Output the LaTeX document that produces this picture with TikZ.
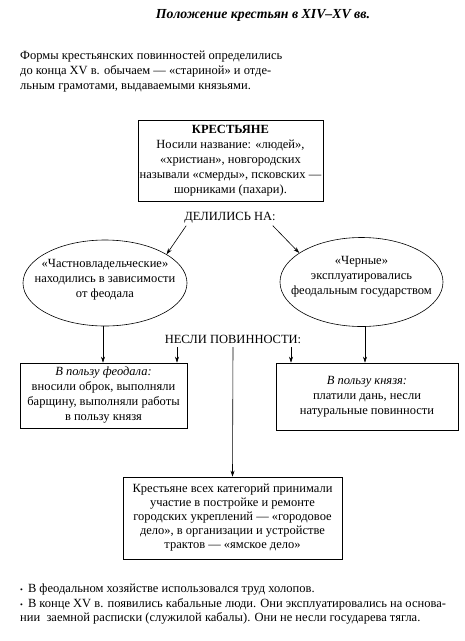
\documentclass[tikz,border=0pt]{standalone}
\usepackage{fontspec}
\setmainfont{Liberation Serif}
\usetikzlibrary{shapes.geometric,arrows.meta,calc}
\begin{document}
\begin{tikzpicture}[x=1pt,y=-1pt,
  txt/.style={font=\fontsize{12.5}{15}\selectfont, inner sep=0pt, align=center},
  boxn/.style={draw, line width=0.6pt, inner sep=0pt, align=center, font=\fontsize{12.5}{15}\selectfont},
  ell/.style={draw, ellipse, line width=0.6pt, inner sep=0pt},
  arr/.style={line width=0.6pt, -{Stealth[length=6pt,width=4pt]}},
  ln/.style={line width=0.6pt}
]
\useasboundingbox (0,0) rectangle (464,641);

\node[txt, font=\fontsize{13.8}{15}\selectfont\bfseries\itshape] (title) at (263,15) {Положение крестьян в XIV–XV вв.};

\node[txt, align=left, anchor=west] (intro) at (20,72) {Формы крестьянских повинностей определились\\до конца XV в. обычаем — «стариной» и отде-\\льным грамотами, выдаваемыми князьями.};

\node[boxn, minimum width=185pt, minimum height=81pt] (top) at (230.5,160.5)
  {\textbf{КРЕСТЬЯНЕ}\\Носили название: «людей»,\\«христиан», новгородских\\называли «смерды», псковских —\\шорниками (пахари).};

\node[txt] (delili) at (230,218) {ДЕЛИЛИСЬ НА:};

\node[ell, minimum width=164pt, minimum height=86pt] (le) at (105,283) {};
\node[txt] (let) at (105,280) {«Частновладельческие»\\находились в зависимости\\от феодала};
\node[ell, minimum width=163pt, minimum height=89pt] (re) at (361.5,282) {};
\node[txt] (ret) at (361.5,277) {«Черные»\\эксплуатировались\\феодальным государством};

\draw[arr] ($(delili.south west)+(2,2)$) -- (le.25);
\draw[arr] ($(delili.south east)+(-3,2)$) -- (re.155);

\node[txt] (nesli) at (233,339) {НЕСЛИ ПОВИННОСТИ:};

\node[boxn, minimum width=167pt, minimum height=65pt] (lbox) at (103.5,395.5)
  {\textit{В пользу феодала:}\\вносили оброк, выполняли\\барщину, выполняли работы\\в пользу князя};
\node[boxn, minimum width=182pt, minimum height=67pt] (rbox) at (367,396.5)
  {\textit{В пользу князя:}\\платили дань, несли\\натуральные повинности};
\node[boxn, minimum width=219pt, minimum height=82pt, font=\fontsize{12.5}{14}\selectfont] (bbox) at (232.5,518)
  {Крестьяне всех категорий принимали\\участие в постройке и ремонте\\городских укреплений — «городовое\\дело», в организации и устройстве\\трактов — «ямское дело»};

\coordinate (n1) at (177,347);
\coordinate (n2) at (291,347);
\coordinate (n3) at (233,347);
\coordinate (ls) at (103,326);
\coordinate (rs) at (365,326);

\draw[arr] (ls) -- (ls |- lbox.north);
\draw[arr] (n1) -- (n1 |- lbox.north);
\draw[arr] (n3) -- (bbox.north);
\draw[arr] (n2) -- (n2 |- rbox.north);
\draw[arr] (rs) -- (rs |- rbox.north);

\node[txt, anchor=west] (b1) at (20,590) {{\fontsize{8}{8}\selectfont•}\hspace{5pt}В феодальном хозяйстве использовался труд холопов.};
\node[txt, anchor=west] (b2) at (20,604) {{\fontsize{8}{8}\selectfont•}\hspace{5pt}В конце XV в. появились кабальные люди. Они эксплуатировались на основа-};
\node[txt, anchor=west] (b3) at (20,618) {нии\ \ заемной расписки (служилой кабалы). Они не несли государева тягла.};
\end{tikzpicture}
\end{document}
